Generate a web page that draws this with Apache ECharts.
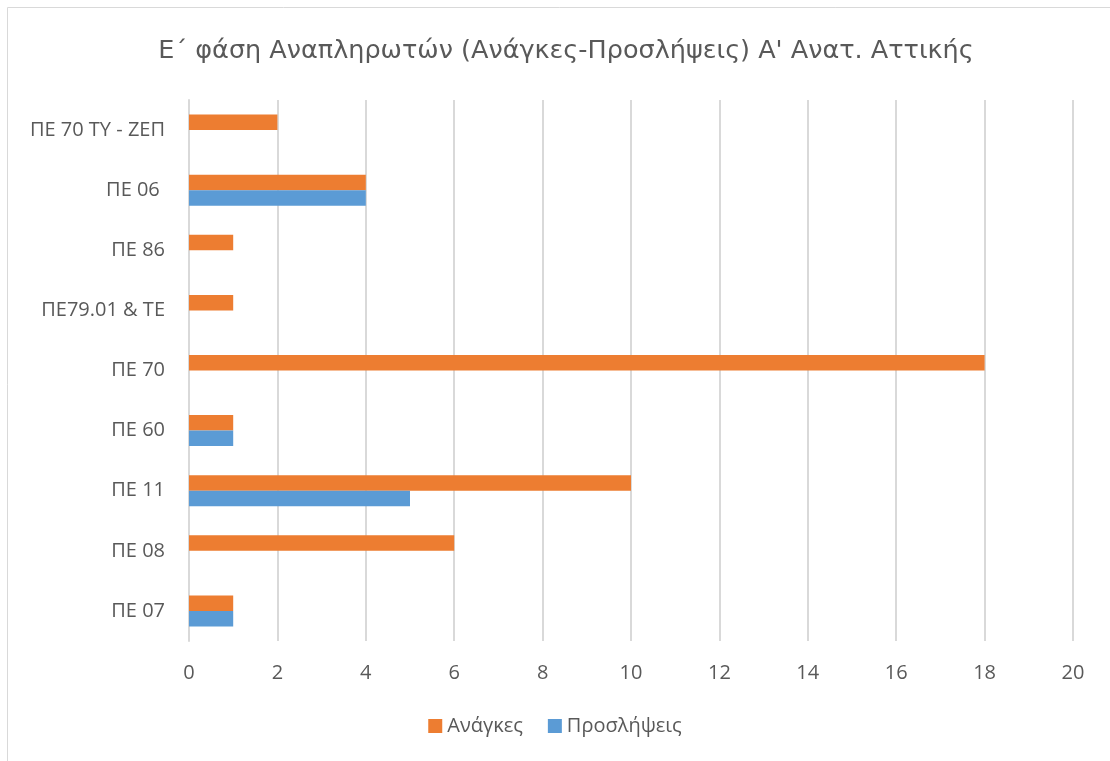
<!DOCTYPE html>
<html><head><meta charset="utf-8">
<script src="https://cdn.jsdelivr.net/npm/echarts@6/dist/echarts.min.js"></script>
<style>html,body{margin:0;padding:0;background:#fff}#c{width:1110px;height:761px}</style>
</head><body><div id="c"></div>
<script>
var categories = ['ΠΕ 07', 'ΠΕ 08', 'ΠΕ 11', 'ΠΕ 60', 'ΠΕ 70', 'ΠΕ79.01 & ΤΕ', 'ΠΕ 86', 'ΠΕ 06 ', 'ΠΕ 70 ΤΥ - ΖΕΠ'];
var anagkes = [1, 6, 10, 1, 18, 1, 1, 4, 2];
var proslipseis = [1, 0, 5, 1, 0, 0, 0, 4, 0];
var xTicks = [0, 20, 2];
var titleText = 'Ε΄ φάση Αναπληρωτών (Ανάγκες-Προσλήψεις) Α\' Ανατ. Αττικής';
var font = 'Open Sans';
var txt = '#595959';
var chart = echarts.init(document.getElementById('c'));
chart.setOption({
  animation: false,
  graphic: [{type:'rect', shape:{x:7.5,y:7.5,width:1200,height:800}, style:{fill:'none', stroke:'#d9d9d9', lineWidth:1}}],
  title: {text: titleText, left: 561, textAlign:'center', top: 33, textStyle:{fontFamily:'DejaVu Sans', fontSize:25.5, fontWeight:'normal', color:txt}},
  legend: {top: 711, left:'center', itemWidth:14, itemHeight:14, itemGap:25, icon:'rect',
    textStyle:{fontFamily:font, fontSize:20, color:txt}, data:['Ανάγκες','Προσλήψεις']},
  grid: {left: 189, right: 37, top: 100, bottom: 120},
  xAxis: {type:'value', min:xTicks[0], max:xTicks[1], interval:xTicks[2],
    axisLine:{show:false}, axisTick:{show:false},
    splitLine:{lineStyle:{color:'#d9d9d9', width:2}},
    axisLabel:{fontFamily:font, fontSize:20, color:txt, margin:22}},
  yAxis: {type:'category', data:categories,
    axisLine:{show:true, lineStyle:{color:'#d9d9d9', width:2}}, axisTick:{show:false},
    axisLabel:{fontFamily:font, fontSize:20, color:txt, margin:24}},
  series: [
    {name:'Ανάγκες', type:'bar', data:anagkes, barWidth:15.5, barGap:'0%', itemStyle:{color:'#ED7D31'}},
    {name:'Προσλήψεις', type:'bar', data:proslipseis, barWidth:15.5, barGap:'0%', itemStyle:{color:'#5B9BD5'}}
  ]
});
</script></body></html>
